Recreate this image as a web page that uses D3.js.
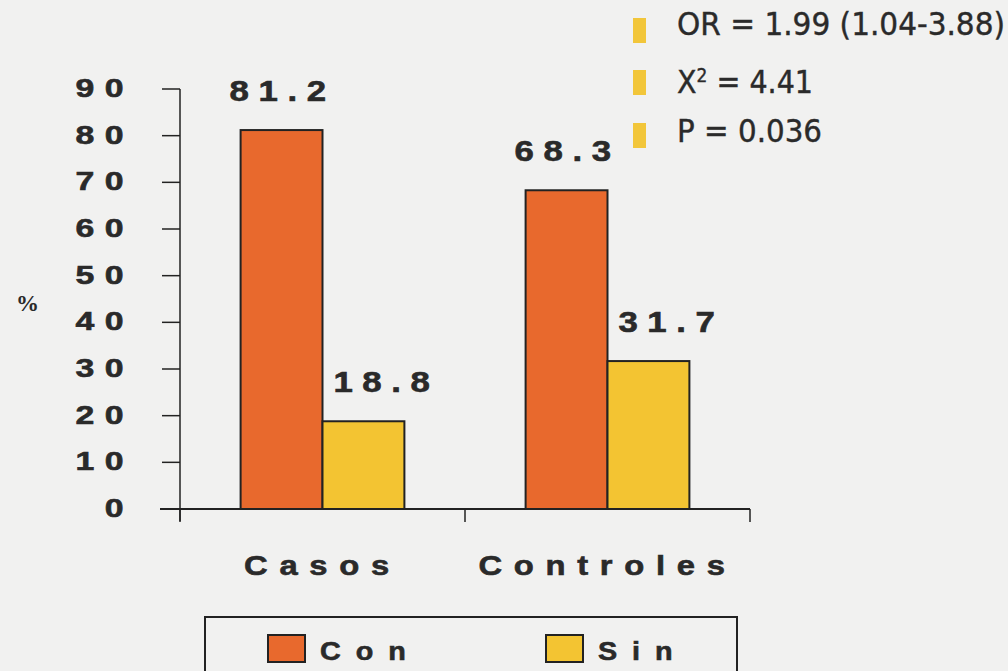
<!DOCTYPE html>
<html><head><meta charset="utf-8">
<script src="https://cdn.jsdelivr.net/npm/d3@7"></script>
<style>
html,body{margin:0;padding:0;background:#f1f1f0;}
svg{display:block;}
text{font-family:"Liberation Sans",Arial,sans-serif;fill:#2a2a2a;}
</style></head><body>
<svg id="c" width="1008" height="671"></svg>
<script>
const categories = ["Casos", "Controles"];
const seriesNames = ["Con", "Sin"];
const conValues = [81.2, 68.3];
const sinValues = [18.8, 31.7];
const yTicks = [0, 10, 20, 30, 40, 50, 60, 70, 80, 90];
const statLines = ["OR = 1.99 (1.04-3.88)", "X² = 4.41", "P = 0.036"];

const colors = {Con: "#e8692d", Sin: "#f3c432"};
const labelShift = {Con: -4, Sin: 18};
const svg = d3.select("#c");

const y = d3.scaleLinear().domain([0, 90]).range([509, 89]);
const x0 = d3.scaleBand().domain(categories).range([180, 750]).paddingInner(0).paddingOuter(0);
const x1 = d3.scaleBand().domain(seriesNames).range([0, x0.bandwidth()]).paddingInner(0).paddingOuter(0.74);

function wide(sel, size, ls) {
  sel.style("font-size", size + "px").style("font-weight", "bold").style("letter-spacing", ls + "px")
    .attr("stroke", "#2a2a2a").attr("stroke-width", 0.6);
}

// y axis ticks
svg.selectAll(".yt").data(yTicks).enter().append("line")
  .attr("x1", 162).attr("x2", 180).attr("y1", d => y(d)).attr("y2", d => y(d))
  .attr("stroke", "#222").attr("stroke-width", 1.5);
svg.selectAll(".yl").data(yTicks).enter().append("text")
  .attr("transform", d => `translate(134,${y(d) + 8}) scale(1.3,1)`)
  .attr("text-anchor", "end")
  .call(wide, 26, 8)
  .text(d => d);
svg.append("line").attr("x1", 180).attr("x2", 180).attr("y1", 89).attr("y2", 521)
  .attr("stroke", "#222").attr("stroke-width", 1.5);

// x axis
svg.append("line").attr("x1", 160).attr("x2", 750).attr("y1", 509).attr("y2", 509)
  .attr("stroke", "#222").attr("stroke-width", 1.8);
const xt = [x0("Casos"), x0("Controles"), x0("Controles") + x0.bandwidth()];
svg.selectAll(".xt").data(xt).enter().append("line")
  .attr("x1", d => d).attr("x2", d => d).attr("y1", 509).attr("y2", 522)
  .attr("stroke", "#222").attr("stroke-width", 1.5);

svg.selectAll(".cat").data(categories).enter().append("text")
  .attr("transform", d => `translate(${x0(d) + x0.bandwidth() / 2},575) scale(1.17,1)`)
  .attr("text-anchor", "middle")
  .call(wide, 28, 10)
  .text(d => d);

// % label
svg.append("text").attr("x", 16).attr("y", 311)
  .style("font-family", "'Liberation Serif','Times New Roman',serif")
  .style("font-size", "23px").style("font-weight", "bold").text("%");

// bars
const rows = categories.map((c, i) => ({cat: c, vals: [{s: "Con", v: conValues[i]}, {s: "Sin", v: sinValues[i]}]}));
const g = svg.selectAll(".grp").data(rows).enter().append("g")
  .attr("transform", d => `translate(${x0(d.cat)},0)`);
g.selectAll("rect").data(d => d.vals).enter().append("rect")
  .attr("x", d => x1(d.s)).attr("width", x1.bandwidth())
  .attr("y", d => y(d.v)).attr("height", d => y(0) - y(d.v))
  .attr("fill", d => colors[d.s]).attr("stroke", "#222").attr("stroke-width", 2);
g.selectAll(".lbl").data(d => d.vals).enter().append("text")
  .attr("transform", d => `translate(${x1(d.s) + x1.bandwidth() / 2 + labelShift[d.s] + 5},${y(d.v) - 29}) scale(1.2,1)`)
  .attr("text-anchor", "middle")
  .call(wide, 29, 8)
  .text(d => d.v.toFixed(1));

// stats
const statY = [35, 93, 142];
const statRectY = [18, 70, 123];
const statW = [328, 136, 145];
statLines.forEach((d, i) => {
  svg.append("rect").attr("x", 633).attr("y", statRectY[i]).attr("width", 13).attr("height", 25).attr("fill", "#f2c63a");
  const t = svg.append("text").attr("x", 677).attr("y", statY[i])
    .style("font-family", "'DejaVu Sans Condensed','DejaVu Sans',sans-serif")
    .style("font-size", "32px").attr("fill", "#2e2e2e")
    .attr("stroke", "#2e2e2e").attr("stroke-width", 0.4)
    .attr("textLength", statW[i]).attr("lengthAdjust", "spacingAndGlyphs");
  if (d.startsWith("X²")) {
    t.append("tspan").text("X");
    t.append("tspan").attr("dy", "-11").style("font-size", "19px").text("2");
    t.append("tspan").attr("dy", "11").text(" = 4.41");
  } else t.text(d);
});

// legend
svg.append("rect").attr("x", 205).attr("y", 617).attr("width", 532).attr("height", 70)
  .attr("fill", "none").attr("stroke", "#222").attr("stroke-width", 2);
const legX = [268, 546];
const lg = svg.selectAll(".lg").data(seriesNames).enter().append("g")
  .attr("transform", (d, i) => `translate(${legX[i]},635)`);
lg.append("rect").attr("width", 37).attr("height", 27).attr("fill", d => colors[d]).attr("stroke", "#222").attr("stroke-width", 2);
lg.append("text").attr("transform", "translate(52,25) scale(1.15,1)")
  .call(wide, 25, 13)
  .text(d => d);
</script></body></html>
